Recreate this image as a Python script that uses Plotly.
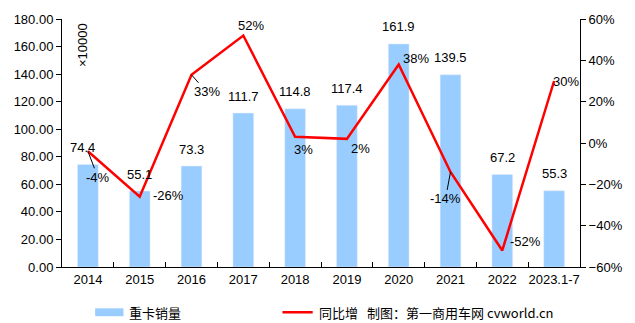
import plotly.graph_objects as go

years = ["2014", "2015", "2016", "2017", "2018", "2019", "2020", "2021", "2022", "2023.1-7"]
sales = [74.4, 55.1, 73.3, 111.7, 114.8, 117.4, 161.9, 139.5, 67.2, 55.3]
growth = [-4, -26, 33, 52, 3, 2, 38, -14, -52, 30]
sales_labels = ["74.4", "55.1", "73.3", "111.7", "114.8", "117.4", "161.9", "139.5", "67.2", "55.3"]
growth_labels = ["-4%", "-26%", "33%", "52%", "3%", "2%", "38%", "-14%", "-52%", "30%"]

FONT = "Liberation Sans, Arial, Noto Sans CJK SC"
BLUE = "#99CCFF"
RED = "#FF0000"

fig = go.Figure()
fig.add_trace(go.Bar(x=years, y=sales, marker_color=BLUE, width=0.4, name="重卡销量",
                     showlegend=False, yaxis="y"))
fig.add_trace(go.Scatter(x=years, y=growth, mode="lines", line=dict(color=RED, width=2.5),
                         name="同比增", showlegend=False, yaxis="y2"))

annotations = []
# bar value labels (x given as category index)
for i, (v, t) in enumerate(zip(sales, sales_labels)):
    annotations.append(dict(x=i, xref="x", y=v, yref="y", text=t, showarrow=False, yshift=17,
                            xshift=-5 if i == 0 else 0,
                            font=dict(size=13, color="#000", family=FONT)))
# growth labels: (xshift, yshift, leader)
offsets = [(10, -26, True), (29, 1, False), (15, -17, True), (8, 10, False), (8, -13, False),
           (14, -10, False), (17, 6, False), (-5, -27, True), (23, 9, False), (12, 0, False)]
for i, (g, t, (dx, dy, lead)) in enumerate(zip(growth, growth_labels, offsets)):
    if lead:
        annotations.append(dict(x=i, xref="x", y=g, yref="y2", text=t, showarrow=True, arrowhead=0,
                                arrowwidth=1, arrowcolor="#000", ax=dx, ay=-dy, standoff=0,
                                font=dict(size=13, color="#000", family=FONT)))
    else:
        annotations.append(dict(x=i, xref="x", y=g, yref="y2", text=t, showarrow=False,
                                xshift=dx, yshift=dy,
                                font=dict(size=13, color="#000", family=FONT)))

def px2x(p):
    return (p - 62) / 531.0

def py2y(p):
    return (267 - p) / 252.0

annotations.append(dict(x=px2x(83), y=py2y(41), xref="paper", yref="paper", text="×10000",
                        textangle=-90, xanchor="center", yanchor="middle",
                        showarrow=False, font=dict(size=13, color="#000", family=FONT)))

# legend
shapes = [
    dict(type="rect", xref="paper", yref="paper", x0=px2x(96), x1=px2x(125), y0=py2y(317), y1=py2y(309),
         fillcolor=BLUE, line=dict(width=0)),
    dict(type="line", xref="paper", yref="paper", x0=px2x(288), x1=px2x(319), y0=py2y(313), y1=py2y(313),
         line=dict(color=RED, width=2.5)),
]
annotations += [
    dict(x=px2x(129), y=py2y(313), xref="paper", yref="paper", text="重卡销量", showarrow=False,
         xanchor="left", yanchor="middle", font=dict(size=13, color="#000", family="Noto Sans CJK SC")),
    dict(x=px2x(323), y=py2y(313), xref="paper", yref="paper", text="同比增", showarrow=False,
         xanchor="left", yanchor="middle", font=dict(size=13, color="#000", family="Noto Sans CJK SC")),
    dict(x=px2x(373), y=py2y(313), xref="paper", yref="paper", text="制图：第一商用车网 cvworld.cn",
         showarrow=False, xanchor="left", yanchor="middle",
         font=dict(size=13, color="#000", family="Noto Sans CJK SC")),
]

fig.update_layout(
    width=635, height=323,
    margin=dict(l=62, r=42, t=15, b=56),
    paper_bgcolor="white", plot_bgcolor="white",
    font=dict(family=FONT, size=13, color="#000"),
    xaxis=dict(type="category", showline=True, linecolor="#000", linewidth=1, ticks="inside",
               tickson="boundaries", ticklen=5, tickcolor="#000", showgrid=False, tickangle=0,
               tickfont=dict(size=13), range=[-0.5, 9.5]),
    yaxis=dict(range=[0, 180], dtick=20, tickformat=".2f", showline=True, linecolor="#000",
               ticks="outside", ticklen=5, tickcolor="#000", showgrid=False, zeroline=False,
               tickfont=dict(size=13)),
    yaxis2=dict(range=[-60, 60], dtick=20, ticksuffix="%", overlaying="y", side="right",
                showline=True, linecolor="#000", ticks="outside", ticklen=5, tickcolor="#000",
                showgrid=False, zeroline=False, tickfont=dict(size=13)),
    shapes=shapes,
    annotations=annotations,
)

fig.write_html("out.html")
